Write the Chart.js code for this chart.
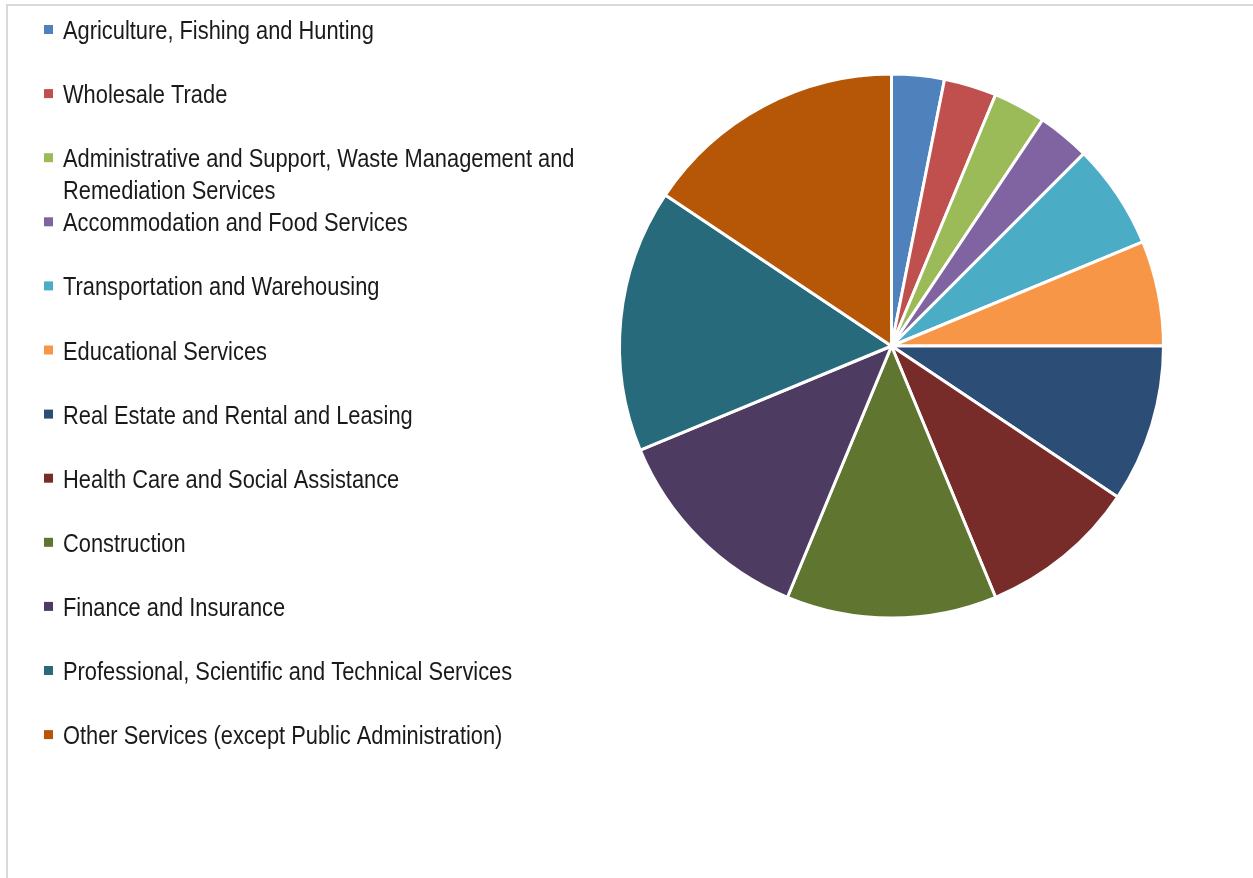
<!DOCTYPE html>
<html lang="en">
<head>
    <meta charset="UTF-8">
    <title>Industries</title>
    <script src="https://cdn.jsdelivr.net/npm/chart.js"></script>
    <style>
        html, body {
            margin: 0;
            padding: 0;
            overflow: hidden;
            background: #fff;
        }
        #frame {
            position: absolute;
            left: 6px;
            top: 4px;
            width: 1300px;
            height: 920px;
            border: 2px solid #d9d9d9;
        }
        #wrap {
            position: absolute;
            left: 0;
            top: 0;
            width: 1253px;
            height: 878px;
        }
    </style>
</head>
<body>
    <div id="frame"></div>
    <div id="wrap"><canvas id="industryChart"></canvas></div>
    <script>
        const industries = [
            'Agriculture, Fishing and Hunting',
            'Wholesale Trade',
            'Administrative and Support, Waste Management and Remediation Services',
            'Accommodation and Food Services',
            'Transportation and Warehousing',
            'Educational Services',
            'Real Estate and Rental and Leasing',
            'Health Care and Social Assistance',
            'Construction',
            'Finance and Insurance',
            'Professional, Scientific and Technical Services',
            'Other Services (except Public Administration)'
        ];
        const counts = [1, 1, 1, 1, 2, 2, 3, 3, 4, 4, 5, 5];
        const colors = [
            '#4F81BD', '#C0504D', '#9BBB59', '#8064A2', '#4BACC6', '#F79646',
            '#2C4D75', '#772C2A', '#5F7530', '#4D3B62', '#276A7C', '#B65708'
        ];

        // narrow look: regular sans squeezed horizontally
        const legendFont = '26px "Liberation Sans", Arial, sans-serif';
        const squeeze = 0.84;
        const wrapWidth = 540;

        // legend on the left, one row every 64px, long labels wrap
        const sideLegend = {
            id: 'sideLegend',
            afterDraw(chart) {
                const ctx = chart.ctx;
                ctx.save();
                ctx.font = legendFont;
                ctx.textBaseline = 'alphabetic';
                industries.forEach((label, i) => {
                    const base = 39 + i * 64.1;
                    ctx.fillStyle = colors[i];
                    ctx.fillRect(44, base - 14, 9, 9);

                    const words = label.split(' ');
                    const lines = [];
                    let line = '';
                    words.forEach(w => {
                        const test = line ? line + ' ' + w : w;
                        if (ctx.measureText(test).width * squeeze > wrapWidth && line) {
                            lines.push(line);
                            line = w;
                        } else {
                            line = test;
                        }
                    });
                    lines.push(line);

                    ctx.fillStyle = '#1a1a1a';
                    lines.forEach((l, j) => {
                        ctx.save();
                        ctx.translate(63, base + j * 32);
                        ctx.scale(squeeze, 1);
                        ctx.fillText(l, 0, 0);
                        ctx.restore();
                    });
                });
                ctx.restore();
            }
        };

        new Chart(document.getElementById('industryChart'), {
            type: 'pie',
            data: {
                labels: industries,
                datasets: [{
                    data: counts,
                    backgroundColor: colors,
                    borderColor: '#fff',
                    borderWidth: 3,
                    hoverOffset: 0
                }]
            },
            options: {
                responsive: true,
                maintainAspectRatio: false,
                animation: false,
                layout: {
                    padding: { left: 618, top: 72, right: 88, bottom: 258 }
                },
                plugins: {
                    legend: { display: false },
                    tooltip: { enabled: false }
                }
            },
            plugins: [sideLegend]
        });
    </script>
</body>
</html>
